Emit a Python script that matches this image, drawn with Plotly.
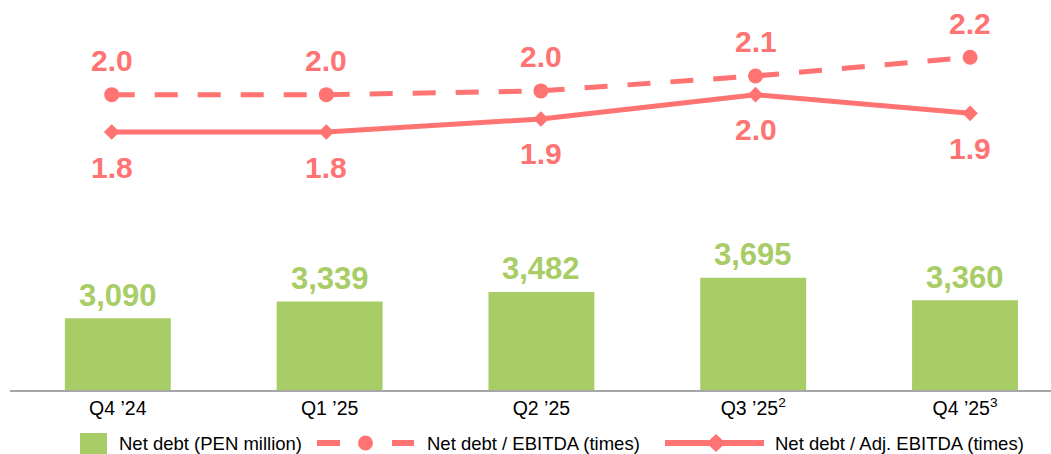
import plotly.graph_objects as go

# ---- data ----
quarters = ["Q4 ’24", "Q1 ’25", "Q2 ’25", "Q3 ’25<sup>2</sup>", "Q4 ’25<sup>3</sup>"]
net_debt = [3090, 3339, 3482, 3695, 3360]
nd_ebitda = [2.00, 2.00, 2.02, 2.10, 2.20]
nd_adj_ebitda = [1.80, 1.80, 1.87, 2.00, 1.90]
legend_labels = ["Net debt (PEN million)", "Net debt / EBITDA (times)",
                 "Net debt / Adj. EBITDA (times)"]

# ---- style ----
GREEN = "#A8CD66"
RED = "#FF7373"
FONT = "Liberation Sans, Arial, sans-serif"

W, H = 1051, 454
L, R, T, B = 10, 0, 0, 64
PW, PH = W - L - R, H - T - B


def px(x):
    return (x - L) / PW


def py(y):
    return (T + PH - y) / PH


fig = go.Figure()

fig.add_trace(go.Bar(
    x=quarters, y=net_debt, name=legend_labels[0],
    marker=dict(color=GREEN, line=dict(width=0)),
    width=0.5, xaxis="x", yaxis="y", showlegend=False, cliponaxis=False,
))
fig.add_trace(go.Scatter(
    x=quarters, y=nd_ebitda, name=legend_labels[1], mode="lines+markers",
    line=dict(color=RED, width=5, dash="23px,20px"),
    marker=dict(symbol="circle", size=15, color=RED),
    xaxis="x2", yaxis="y2", showlegend=False, cliponaxis=False,
))
fig.add_trace(go.Scatter(
    x=quarters, y=nd_adj_ebitda, name=legend_labels[2], mode="lines+markers",
    line=dict(color=RED, width=5),
    marker=dict(symbol="diamond", size=12, color=RED),
    xaxis="x2", yaxis="y2", showlegend=False, cliponaxis=False,
))

annotations = []
for q, v in zip(quarters, net_debt):
    annotations.append(dict(
        x=q, y=v, xref="x", yref="y", text=f"{v:,}", showarrow=False,
        yanchor="middle", yshift=23,
        font=dict(family=FONT, size=31, color=GREEN, weight="bold"),
    ))
for q, v in zip(quarters, nd_ebitda):
    annotations.append(dict(
        x=q, y=v, xref="x2", yref="y2", text=f"{v:.1f}", showarrow=False,
        yanchor="middle", yshift=34,
        font=dict(family=FONT, size=30, color=RED, weight="bold"),
    ))
for q, v in zip(quarters, nd_adj_ebitda):
    annotations.append(dict(
        x=q, y=v, xref="x2", yref="y2", text=f"{v:.1f}", showarrow=False,
        yanchor="middle", yshift=-35,
        font=dict(family=FONT, size=30, color=RED, weight="bold"),
    ))

# ---- custom legend ----
LEG_Y = 443
leg_font = dict(family=FONT, size=18.5, color="#000000")
for x0, label in zip([117, 425, 773], legend_labels):
    annotations.append(dict(
        x=px(x0), y=py(LEG_Y), xref="paper", yref="paper", text=label,
        showarrow=False, xanchor="left", yanchor="middle", font=leg_font,
    ))

shapes = [
    dict(type="rect", xref="paper", yref="paper",
         x0=px(80), x1=px(107), y0=py(456), y1=py(433),
         fillcolor=GREEN, line=dict(width=0)),
    dict(type="line", xref="paper", yref="paper",
         x0=px(317), x1=px(340), y0=py(LEG_Y), y1=py(LEG_Y),
         line=dict(color=RED, width=6)),
    dict(type="line", xref="paper", yref="paper",
         x0=px(392), x1=px(414), y0=py(LEG_Y), y1=py(LEG_Y),
         line=dict(color=RED, width=6)),
    dict(type="circle", xref="paper", yref="paper",
         x0=px(358), x1=px(373), y0=py(LEG_Y + 7.5), y1=py(LEG_Y - 7.5),
         fillcolor=RED, line=dict(width=0)),
    dict(type="line", xref="paper", yref="paper",
         x0=px(665), x1=px(764), y0=py(LEG_Y), y1=py(LEG_Y),
         line=dict(color=RED, width=6)),
    dict(type="path", xref="paper", yref="paper",
         path=(f"M{px(706.5)},{py(LEG_Y)} L{px(716)},{py(LEG_Y - 9)} "
               f"L{px(725.5)},{py(LEG_Y)} L{px(716)},{py(LEG_Y + 9)} Z"),
         fillcolor=RED, line=dict(width=0)),
]

fig.update_layout(
    width=W, height=H,
    margin=dict(l=L, r=R, t=T, b=B, pad=0),
    paper_bgcolor="white", plot_bgcolor="white",
    font=dict(family=FONT),
    showlegend=False,
    bargap=0.5,
    xaxis=dict(type="category", range=[-0.509, 4.406], showline=True,
               linecolor="#A6A6A6", linewidth=1.5, ticks="", showgrid=False,
               zeroline=False, tickfont=dict(family=FONT, size=19.5, color="#000000")),
    xaxis2=dict(type="category", overlaying="x", range=[-0.474, 4.377],
                visible=False, showgrid=False),
    yaxis=dict(range=[2021, 7833], visible=False, showgrid=False),
    yaxis2=dict(overlaying="y", range=[0.421, 2.506], visible=False, showgrid=False),
    annotations=annotations,
    shapes=shapes,
)

fig.write_html("out.html", config={"displayModeBar": False},
               post_script="document.body.style.margin='0';")
